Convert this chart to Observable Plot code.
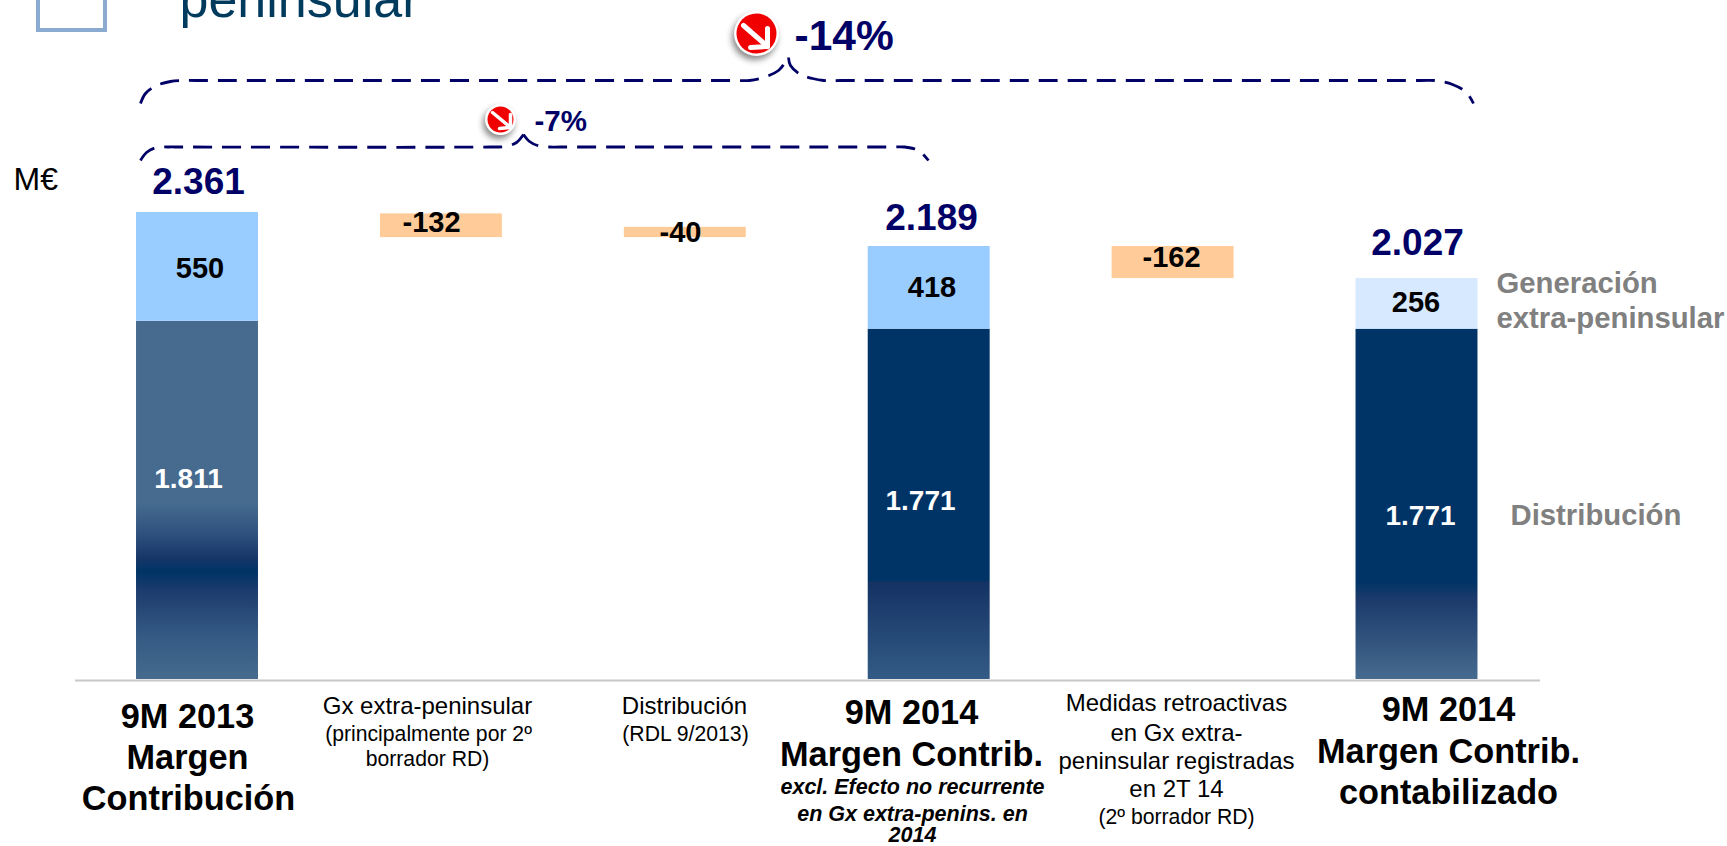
<!DOCTYPE html>
<html lang="es">
<head>
<meta charset="utf-8">
<title>Margen de contribución</title>
<script src="https://cdn.jsdelivr.net/npm/d3@7"></script>
<script src="https://cdn.jsdelivr.net/npm/@observablehq/plot@0.6"></script>
<style>
html,body{margin:0;padding:0;background:#fff;overflow:hidden}
svg{display:block}
</style>
</head>
<body>
<div id="chart"></div>
<script>
// ---------- data (M€) ----------
const categories = ["9M 2013", "Gx extra-peninsular", "Distribución", "9M 2014 excl.", "Medidas retroactivas", "9M 2014 contabilizado"];
const distribucion = [1811, null, null, 1771, null, 1771];
const generacion   = [550,  null, null, 418,  null, 256];
const totals       = [2361, null, null, 2189, null, 2027];
const variations   = [null, -132, -40,  null, -162, null];
const floatTop     = [null, 2354, 2286, null, 2189, null];
const floatBottom  = [null, 2234, 2234, null, 2027, null];
const changes      = ["-14%", "-7%"];
const seriesNames  = [["Generación", "extra-peninsular"], ["Distribución"]];
const labelLines = [
  ["9M 2013", "Margen", "Contribución"],
  ["Gx extra-peninsular", "(principalmente por 2º", "borrador RD)"],
  ["Distribución", "(RDL 9/2013)"],
  ["9M 2014", "Margen Contrib."],
  ["Medidas retroactivas", "en Gx extra-", "peninsular registradas", "en 2T 14", "(2º borrador RD)"],
  ["9M 2014", "Margen Contrib.", "contabilizado"]
];
const labelNote = ["excl. Efecto no recurrente", "en Gx extra-penins. en", "2014"];

// ---------- layout: reference pixels to chart units ----------
const X = px => (px - 197) / 243.9;
const Y = py => (679 - py) / 0.1978;
const NAVY = "#000066";
const fmt = d3.formatLocale({decimal: ",", thousands: ".", grouping: [3], minus: "-"}).format(",");
const idx = categories.map((_, i) => i);
const pick = (arr) => idx.filter(i => arr[i] != null);
const distFill = ["url(#grad13)", null, null, "url(#grad14a)", null, "url(#grad14b)"];
const genFill  = ["#99ccff", null, null, "#99ccff", null, "#d6e9ff"];

const defs = () => {
  const g = document.createElementNS("http://www.w3.org/2000/svg", "defs");
  const grad = (id, stops) => `<linearGradient id="${id}" x1="0" y1="0" x2="0" y2="1">` +
    stops.map(([o, c]) => `<stop offset="${o}" stop-color="${c}"/>`).join("") + `</linearGradient>`;
  g.innerHTML =
    grad("grad13", [[0,"#466b8f"],[.51,"#466b8f"],[.60,"#2c4f7d"],[.66,"#173768"],[.70,"#003366"],[.75,"#1b3b6c"],[.88,"#355a84"],[1,"#466b8f"]]) +
    grad("grad14a", [[0,"#003366"],[.72,"#003366"],[.722,"#143264"],[1,"#335b85"]]) +
    grad("grad14b", [[0,"#003366"],[.72,"#003366"],[.77,"#1b3a6b"],[1,"#466b8f"]]);
  return g;
};

// text helper: rows are [string, pixel x, pixel baseline]
const T = (rows, o = {}) => Plot.text(rows, {
  text: d => d[0], x: d => X(d[1]), y: d => Y(d[2]),
  lineAnchor: "bottom", textAnchor: "middle", fill: "#000", fontSize: 24, ...o
});
const pts = list => list.map(([a, b]) => ({x: X(a), y: Y(b)}));
const brace = pointList => Plot.line(pts(pointList), {
  x: "x", y: "y", curve: "catmull-rom", stroke: NAVY, strokeWidth: 2.8,
  strokeDasharray: "19 10", strokeLinecap: "butt"
});
const badge = (cx, cy, r, sw, tail, tip, a1, a2) => [
  Plot.dot([{x: X(cx), y: Y(cy)}], {x: "x", y: "y", r: r + 2.5, fill: "#fff", imageFilter: "drop-shadow(-2px 4px 3px #0007)"}),
  Plot.dot([{x: X(cx), y: Y(cy)}], {x: "x", y: "y", r, fill: "#f00000"}),
  Plot.line(pts([tail, tip]), {x: "x", y: "y", stroke: "#fff", strokeWidth: sw, strokeLinecap: "round"}),
  Plot.line(pts([a1, tip, a2]), {x: "x", y: "y", stroke: "#fff", strokeWidth: sw, strokeLinecap: "round", strokeLinejoin: "round"})
];

const chart = Plot.plot({
  width: 1727, height: 846,
  margin: 0,
  style: {fontFamily: "'Liberation Sans', Arial, sans-serif", background: "#fff", overflow: "hidden"},
  x: {domain: [X(0), X(1727)], range: [0, 1727], axis: null},
  y: {domain: [Y(846), Y(0)], range: [846, 0], axis: null},
  color: {type: "identity"},
  marks: [
    defs,
    // slide fragments cropped at the top
    Plot.rect([0], {x1: X(38), x2: X(105), y1: Y(30), y2: Y(-20), fill: "none", stroke: "#8aaacf", strokeWidth: 4}),
    T([["peninsular", 179, 16]], {textAnchor: "start", fontSize: 52, fill: "#003a5c"}),
    // bars
    Plot.rectY(pick(distribucion), {x1: i => i - .25, x2: i => i + .25, y1: 0, y2: i => distribucion[i], fill: i => distFill[i]}),
    Plot.rectY(pick(generacion), {x1: i => i - .25, x2: i => i + .25, y1: i => distribucion[i], y2: i => distribucion[i] + generacion[i], fill: i => genFill[i]}),
    Plot.rectY(pick(variations), {x1: i => i - .25, x2: i => i + .25, y1: i => floatBottom[i], y2: i => floatTop[i], fill: "#ffcc99"}),
    Plot.ruleY([Y(680)], {x1: X(75), x2: X(1540), stroke: "#c8c8c8", strokeWidth: 2}),
    // braces
    brace([[140,103],[145,93],[156,85],[170,81],[183,80],[195,80],[735,80],[749,80],[766,76],[778,70],[784,63],[788,57]]),
    brace([[788,57],[790,65],[800,74],[812,78],[823,80],[840,80],[1420,80],[1434,80],[1452,84],[1466,92],[1473,103]]),
    brace([[140,160],[146,152],[156,147],[168,146.5],[180,146.5],[490,146.5],[505,146],[516,142],[523,134]]),
    brace([[523,134],[529,141],[537,145],[549,146.5],[560,146.5],[890,146.5],[904,146.5],[918,150],[928,160]]),
    // badges
    ...badge(756, 33, 20, 5, [743,25], [767,46], [750,47], [767,28]),
    ...badge(500, 119, 13, 3.5, [492,112], [510,127], [499,128], [510,114]),
    // change labels
    T([[changes[0], 794, 49]], {textAnchor: "start", fontSize: 42.5, fontWeight: "bold", fill: NAVY}),
    T([[changes[1], 534, 130]], {textAnchor: "start", fontSize: 29.5, fontWeight: "bold", fill: NAVY}),
    T([["M€", 13, 189]], {textAnchor: "start", fontSize: 32}),
    // totals
    T([[fmt(totals[0]), 198, 193], [fmt(totals[3]), 931, 229], [fmt(totals[5]), 1417, 254]], {fontSize: 37, fontWeight: "bold", fill: NAVY}),
    // segment labels
    T([[fmt(generacion[0]), 199.5, 277], [fmt(generacion[3]), 931.5, 296.5], [fmt(generacion[5]), 1415.5, 311],
       [String(variations[1]), 431, 231], [String(variations[2]), 680, 241], [String(variations[4]), 1171, 266]],
      {fontSize: 29, fontWeight: "bold"}),
    T([[fmt(distribucion[0]), 188, 487], [fmt(distribucion[3]), 920, 509], [fmt(distribucion[5]), 1420, 524]],
      {fontSize: 28, fontWeight: "bold", fill: "#fff"}),
    // series names
    T([[seriesNames[0][0], 1496, 292], [seriesNames[0][1], 1496, 327], [seriesNames[1][0], 1510, 524]],
      {textAnchor: "start", fontSize: 29.3, fontWeight: "bold", fill: "#808080"}),
    // category labels
    T([[labelLines[0][0], 187, 727], [labelLines[0][1], 187, 768], [labelLines[0][2], 188, 809],
       [labelLines[3][0], 911, 723], [labelLines[3][1], 911, 765],
       [labelLines[5][0], 1448, 720], [labelLines[5][1], 1448, 762], [labelLines[5][2], 1448, 803]],
      {fontSize: 34.3, fontWeight: "bold"}),
    T([[labelLines[1][0], 427, 713], [labelLines[2][0], 684, 713],
       [labelLines[4][0], 1176, 710], [labelLines[4][1], 1176, 740], [labelLines[4][2], 1176, 768], [labelLines[4][3], 1176, 796]],
      {fontSize: 24}),
    T([[labelLines[1][1], 428, 740], [labelLines[1][2], 427, 765], [labelLines[2][1], 685, 740], [labelLines[4][4], 1176, 823]],
      {fontSize: 21.2}),
    T([[labelNote[0], 912, 793], [labelNote[1], 912, 820], [labelNote[2], 912, 841]],
      {fontSize: 21.5, fontWeight: "bold", fontStyle: "italic"})
  ]
});
document.getElementById("chart").append(chart);
</script>
</body>
</html>
